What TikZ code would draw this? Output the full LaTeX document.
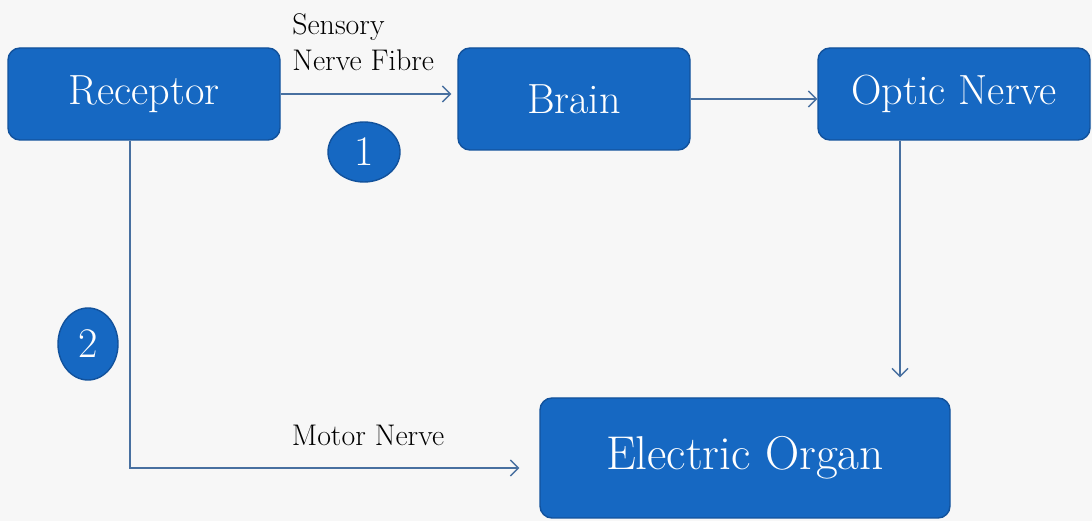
\documentclass[tikz,border=0pt]{standalone}
\usepackage{xcolor,tikz}
\usetikzlibrary{shapes,arrows.meta,positioning,calc}
\definecolor{boxblue}{RGB}{22,104,194}
\definecolor{boxedge}{RGB}{18,82,156}
\definecolor{linkblue}{RGB}{72,112,160}
\tikzstyle{block} = [draw=boxedge, line width=0.8pt, fill=boxblue, rounded corners=0.24cm, text=white, font=\fontsize{24}{28}\selectfont, inner sep=0pt]
\tikzstyle{badge} = [draw=boxedge, line width=0.8pt, fill=boxblue, ellipse, text=white, font=\fontsize{24}{28}\selectfont, inner sep=0pt]
\tikzstyle{link} = [draw=linkblue, line width=0.8pt, -{Straight Barb[length=1.6mm,width=3.2mm]}]
\tikzstyle{lbl} = [font=\fontsize{17}{20.5}\selectfont, inner sep=0pt]

\begin{document}
\begin{tikzpicture}
      \fill[white!97!black] (0,0) rectangle (21.84,10.42);
      \useasboundingbox (0,0) rectangle (21.84,10.42);
      \node[block, minimum width=5.44cm, minimum height=1.84cm] (rec) at (2.88,8.54) {Receptor};
      \node[block, minimum width=4.64cm, minimum height=2.04cm] (brain) at (11.48,8.44) {Brain};
      \node[block, minimum width=5.44cm, minimum height=1.84cm] (optic) at (19.08,8.54) {Optic Nerve};
      \node[block, minimum width=8.2cm, minimum height=2.4cm, font=\fontsize{27}{32}\selectfont] (eorg) at (14.9,1.26) {Electric Organ};
      \node[badge, minimum width=1.44cm, minimum height=1.2cm] (one) at (7.28,7.38) {1};
      \node[badge, minimum width=1.2cm, minimum height=1.44cm] (two) at (1.76,3.54) {2};
      \node[lbl, anchor=west, align=left] (sens) at (5.84,9.58) {Sensory\\Nerve Fibre};
      \node[lbl] (motor) at (7.36,1.72) {Motor Nerve};
      \coordinate (bend) at (2.6,1.06);
      \coordinate (drop) at (18.0,8.54);
      \draw[link, shorten >=0.12cm] (rec.east) -- (rec.east -| brain.west);
      \draw[link] (brain.east) -- (brain.east -| optic.west);
      \draw[link, shorten >=0.4cm] (drop |- optic.south) -- (drop |- eorg.north);
      \draw[link, shorten >=0.4cm] (bend |- rec.south) -- (bend) -- (bend -| eorg.west);
    \end{tikzpicture}
\end{document}
